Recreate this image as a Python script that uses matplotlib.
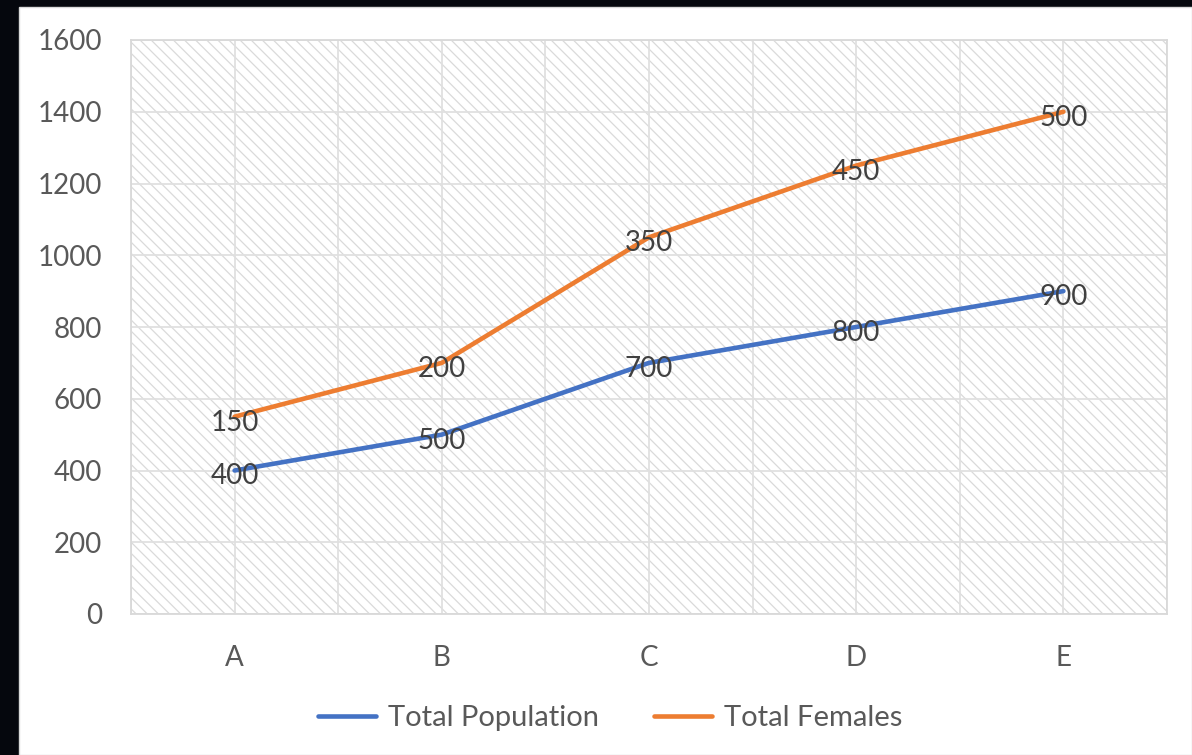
import matplotlib
matplotlib.use("Agg")
import matplotlib.pyplot as plt
from matplotlib.patches import Rectangle
import numpy as np

categories = ["A", "B", "C", "D", "E"]
total_population = [400, 500, 700, 800, 900]
total_females = [150, 200, 350, 450, 500]
yticks = [0, 200, 400, 600, 800, 1000, 1200, 1400, 1600]

plt.rcParams['font.family'] = ['Lato', 'DejaVu Sans']
plt.rcParams['hatch.color'] = '#dadada'
plt.rcParams['hatch.linewidth'] = 0.9

fig = plt.figure(figsize=(11.92, 7.55), dpi=100, facecolor='#05070d')
fig.patches.append(Rectangle((19/1192, 0), 1 - 19/1192, 1 - 7/755, transform=fig.transFigure,
                             facecolor='white', edgecolor='#d9d9d9', lw=1, zorder=-5))

ax = fig.add_axes([131/1192, 1 - 614/755, (1167 - 131)/1192, (614 - 40)/755])
ax.set_facecolor('white')
ax.add_patch(Rectangle((0, 0), 1, 1, transform=ax.transAxes, facecolor='white',
                       hatch='\\\\\\', edgecolor='#dadada', lw=0, zorder=0))

x = np.arange(len(categories))
stacked = [p + f for p, f in zip(total_population, total_females)]

ax.plot(x, total_population, color='#4472C4', lw=3.3, solid_capstyle='round', label='Total Population', zorder=3)
ax.plot(x, stacked, color='#ED7D31', lw=3.3, solid_capstyle='round', label='Total Females', zorder=3)

FS = 20
for xi, yv, lab in zip(x, total_population, total_population):
    ax.annotate(str(lab), (xi, yv), xytext=(0, -2.5), textcoords='offset points',
                ha='center', va='center_baseline', fontsize=FS, color='#404040', zorder=4)
for xi, yv, lab in zip(x, stacked, total_females):
    ax.annotate(str(lab), (xi, yv), xytext=(0, -2.5), textcoords='offset points',
                ha='center', va='center_baseline', fontsize=FS, color='#404040', zorder=4)

ax.set_xlim(-0.5, len(categories) - 0.5)
ax.set_ylim(0, 1600)
ax.set_yticks(yticks)
ax.set_yticklabels([str(t) for t in yticks])
ax.set_xticks(x)
ax.set_xticklabels(categories)
ax.set_xticks(np.arange(-0.5, len(categories), 1.0), minor=True)
ax.grid(True, which='major', color='#e0e0e0', lw=1.3, zorder=1)
ax.grid(True, which='minor', axis='x', color='#e0e0e0', lw=1.3, zorder=1)
ax.set_axisbelow(True)
ax.tick_params(axis='both', which='both', length=0, labelsize=FS, labelcolor='#595959')
ax.tick_params(axis='y', pad=21)
ax.tick_params(axis='x', pad=22)
for s in ax.spines.values():
    s.set_color('#d9d9d9')
    s.set_linewidth(1.3)

leg = ax.legend(loc='center', bbox_to_anchor=(610/1192, 1 - 718/755), bbox_transform=fig.transFigure,
                ncol=2, frameon=False, fontsize=21, handlelength=2.0, columnspacing=1.9,
                handletextpad=0.4)
for t in leg.get_texts():
    t.set_color('#595959')

fig.savefig('out.png', dpi=100, facecolor=fig.get_facecolor())
